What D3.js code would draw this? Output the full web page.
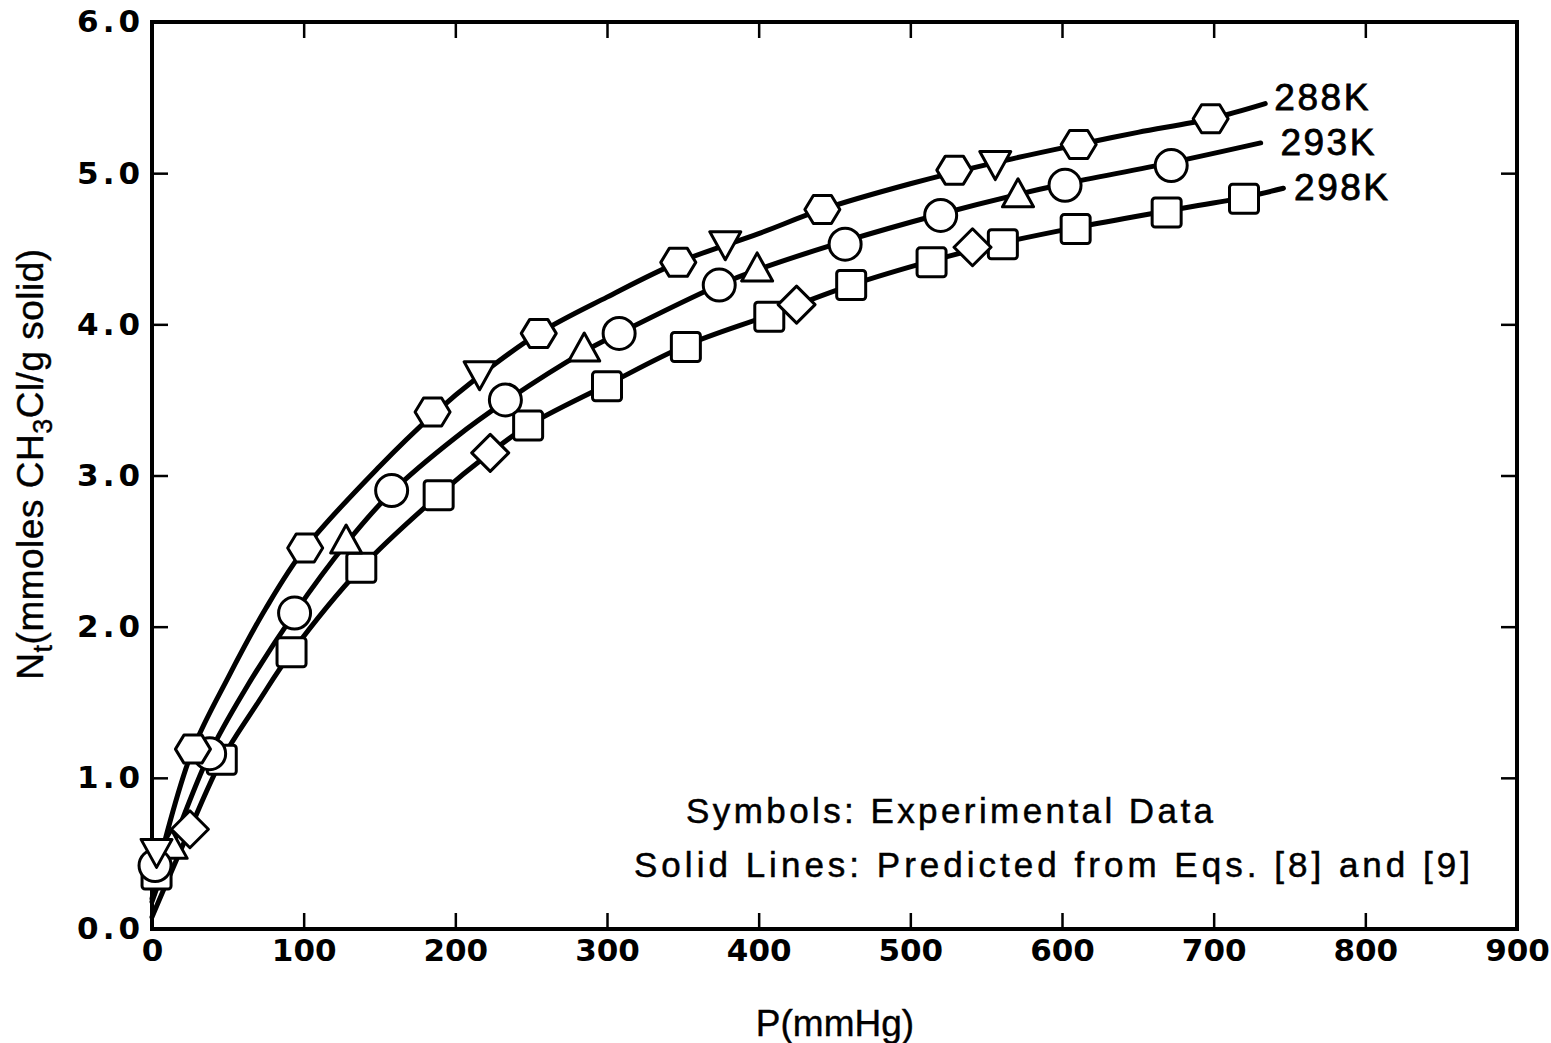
<!DOCTYPE html>
<html lang="en">
<head>
<meta charset="utf-8" />
<title>CH3Cl isotherms</title>
<script src="https://d3js.org/d3.v7.min.js"></script>
<style>
  body { margin: 0; background: #fff; }
  text { fill: #000; }
</style>
</head>
<body>
<script>
/*************************** Data ***************************/

// x axis / y axis ticks
var xTicks = [0, 100, 200, 300, 400, 500, 600, 700, 800, 900];
var yTicks = [0, 1, 2, 3, 4, 5, 6];

// predicted curves [P, Nt]
var line288 = [[0,0.2],[10,0.64],[27,1.19],[50,1.66],[75,2.12],[101,2.52],[150,3.06],[185,3.40],[216,3.66],[255,3.94],[300,4.18],[347,4.41],[400,4.60],[442,4.76],[500,4.93],[556,5.07],[611,5.19],[650,5.27],[698,5.36],[734,5.46]];
var line293 = [[0,0.18],[13,0.54],[38,1.16],[60,1.56],[94,2.09],[128,2.55],[158,2.89],[200,3.25],[233,3.49],[285,3.82],[308,3.94],[374,4.26],[399,4.36],[457,4.55],[520,4.73],[571,4.86],[602,4.93],[672,5.07],[731,5.20]];
var line298 = [[0,0.08],[25,0.66],[46,1.12],[70,1.5],[92,1.83],[138,2.39],[189,2.87],[223,3.15],[248,3.33],[300,3.60],[352,3.86],[407,4.06],[461,4.26],[514,4.42],[561,4.54],[609,4.64],[669,4.75],[720,4.84],[746,4.90]];

// experimental symbols [P, Nt]
var hex288 = [[27,1.19],[101,2.52],[185,3.42],[255,3.94],[347,4.41],[442,4.76],[529,5.02],[611,5.19],[698,5.36]];
var triDown288 = [[3,0.52],[216,3.68],[378,4.54],[556,5.07]];
var circle293 = [[2,0.42],[38,1.16],[94,2.09],[158,2.90],[233,3.50],[308,3.94],[374,4.26],[457,4.53],[520,4.72],[602,4.92],[672,5.05]];
var triUp293 = [[13,0.54],[128,2.56],[285,3.83],[399,4.36],[571,4.85]];
var square298 = [[3,0.36],[46,1.12],[92,1.83],[138,2.39],[189,2.87],[248,3.33],[300,3.59],[352,3.85],[407,4.05],[461,4.26],[514,4.41],[561,4.53],[609,4.63],[669,4.74],[720,4.83]];
var diamond298 = [[25,0.66],[223,3.15],[425,4.13],[541,4.51]];

var curveLabels = ["288K", "293K", "298K"];
var notes = ["Symbols: Experimental Data", "Solid Lines: Predicted from Eqs. [8] and [9]"];

/*************************** Canvas ***************************/

var W = 1551, H = 1043;
var margin = { left: 152, top: 22, right: 34, bottom: 114 };

var svg = d3.select("body").append("svg")
  .attr("width", W).attr("height", H);

var x = d3.scaleLinear().domain([0, 900]).range([margin.left, W - margin.right]);
var y = d3.scaleLinear().domain([0, 6]).range([H - margin.bottom, margin.top]);

var tickFont = "'DejaVu Sans', sans-serif";
var textFont = "'Liberation Sans', Arial, sans-serif";

/*************************** Axes ***************************/

var tickLen = 16;
function styleAxis(g) {
  g.select(".domain").remove();
  g.selectAll(".tick line").attr("stroke", "#000").attr("stroke-width", 2.5);
}

var bottomAxis = svg.append("g")
  .attr("transform", "translate(0," + y(0) + ")")
  .call(d3.axisBottom(x).tickValues(xTicks).tickSizeInner(-tickLen).tickSizeOuter(0).tickPadding(10).tickFormat(d3.format("d")));
styleAxis(bottomAxis);
bottomAxis.selectAll(".tick text")
  .attr("font-family", tickFont).attr("font-weight", "bold").attr("font-size", 31);

var topAxis = svg.append("g")
  .attr("transform", "translate(0," + y(6) + ")")
  .call(d3.axisTop(x).tickValues(xTicks.slice(1, -1)).tickSizeInner(-tickLen).tickSizeOuter(0).tickFormat(""));
styleAxis(topAxis);

var leftAxis = svg.append("g")
  .attr("transform", "translate(" + x(0) + ",0)")
  .call(d3.axisLeft(y).tickValues(yTicks).tickSizeInner(-tickLen).tickSizeOuter(0).tickPadding(12).tickFormat(d3.format(".1f")));
styleAxis(leftAxis);
leftAxis.selectAll(".tick line").filter(function (d) { return d === 0 || d === 6; }).remove();
leftAxis.selectAll(".tick text")
  .attr("font-family", tickFont).attr("font-weight", "bold").attr("font-size", 31)
  .attr("letter-spacing", 4).attr("dx", 4);

var rightAxis = svg.append("g")
  .attr("transform", "translate(" + x(900) + ",0)")
  .call(d3.axisRight(y).tickValues(yTicks.slice(1, -1)).tickSizeInner(-tickLen).tickSizeOuter(0).tickFormat(""));
styleAxis(rightAxis);

// frame
svg.append("rect")
  .attr("x", x(0)).attr("y", y(6))
  .attr("width", x(900) - x(0)).attr("height", y(0) - y(6))
  .attr("fill", "none").attr("stroke", "#000").attr("stroke-width", 4);

/*************************** Curves ***************************/

var lineGen = d3.line()
  .x(function (d) { return x(d[0]); })
  .y(function (d) { return y(d[1]); })
  .curve(d3.curveCatmullRom.alpha(0.5));

[line288, line293, line298].forEach(function (ln) {
  svg.append("path").datum(ln)
    .attr("d", lineGen)
    .attr("fill", "none").attr("stroke", "#000").attr("stroke-width", 5)
    .attr("stroke-linecap", "round");
});

/*************************** Symbols ***************************/

function shapePath(kind) {
  var p = d3.path();
  if (kind === "hex") {
    var a = 17.5, b = 9, h = 14;
    p.moveTo(-a, 0); p.lineTo(-b, -h); p.lineTo(b, -h); p.lineTo(a, 0);
    p.lineTo(b, h); p.lineTo(-b, h); p.closePath();
  } else if (kind === "triDown") {
    p.moveTo(-15.5, -11); p.lineTo(15.5, -11); p.lineTo(0, 17); p.closePath();
  } else if (kind === "triUp") {
    p.moveTo(-15.5, 11); p.lineTo(15.5, 11); p.lineTo(0, -17); p.closePath();
  } else if (kind === "circle") {
    p.arc(0, 0, 16, 0, 2 * Math.PI); p.closePath();
  } else if (kind === "square") {
    var s = 14.5, r = 3;
    p.moveTo(-s + r, -s); p.lineTo(s - r, -s); p.arcTo(s, -s, s, -s + r, r);
    p.lineTo(s, s - r); p.arcTo(s, s, s - r, s, r);
    p.lineTo(-s + r, s); p.arcTo(-s, s, -s, s - r, r);
    p.lineTo(-s, -s + r); p.arcTo(-s, -s, -s + r, -s, r); p.closePath();
  } else if (kind === "diamond") {
    var d = 18.5;
    p.moveTo(0, -d); p.lineTo(d, 0); p.lineTo(0, d); p.lineTo(-d, 0); p.closePath();
  }
  return p.toString();
}

var symbolSets = [
  { pts: square298, kind: "square" },
  { pts: diamond298, kind: "diamond" },
  { pts: triUp293, kind: "triUp" },
  { pts: circle293, kind: "circle" },
  { pts: hex288, kind: "hex" },
  { pts: triDown288, kind: "triDown" }
];

symbolSets.forEach(function (set) {
  svg.append("g").selectAll("path")
    .data(set.pts).enter().append("path")
    .attr("transform", function (d) { return "translate(" + x(d[0]) + "," + y(d[1]) + ")"; })
    .attr("d", shapePath(set.kind))
    .attr("fill", "#fff").attr("stroke", "#000").attr("stroke-width", 3)
    .attr("stroke-linejoin", "round");
});

/*************************** Text ***************************/

// curve labels, next to line ends
var labelPos = [[740, 5.42], [744, 5.12], [753, 4.82]];
curveLabels.forEach(function (t, i) {
  svg.append("text")
    .attr("x", x(labelPos[i][0])).attr("y", y(labelPos[i][1]))
    .attr("font-family", textFont).attr("font-size", 37)
    .attr("stroke", "#000").attr("stroke-width", 0.8)
    .attr("textLength", 94).attr("lengthAdjust", "spacing")
    .text(t);
});

svg.append("text")
  .attr("x", 686).attr("y", 823)
  .attr("font-family", textFont).attr("font-size", 35)
  .attr("stroke", "#000").attr("stroke-width", 0.5)
  .attr("textLength", 527).attr("lengthAdjust", "spacing")
  .text(notes[0]);

svg.append("text")
  .attr("x", 634).attr("y", 877)
  .attr("font-family", textFont).attr("font-size", 35)
  .attr("stroke", "#000").attr("stroke-width", 0.5)
  .attr("textLength", 836).attr("lengthAdjust", "spacing")
  .text(notes[1]);

// axis titles
svg.append("text")
  .attr("x", 835).attr("y", 1036)
  .attr("text-anchor", "middle")
  .attr("font-family", textFont).attr("font-size", 37)
  .attr("stroke", "#000").attr("stroke-width", 0.4)
  .text("P(mmHg)");

var yTitle = svg.append("text")
  .attr("transform", "translate(43,464) rotate(-90)")
  .attr("text-anchor", "middle")
  .attr("font-family", textFont).attr("font-size", 37)
  .attr("stroke", "#000").attr("stroke-width", 0.4)
  .attr("letter-spacing", 0.5);
yTitle.append("tspan").text("N");
yTitle.append("tspan").attr("font-size", 27).attr("dy", 9).text("t");
yTitle.append("tspan").attr("dy", -9).text("(mmoles CH");
yTitle.append("tspan").attr("font-size", 27).attr("dy", 9).text("3");
yTitle.append("tspan").attr("dy", -9).text("Cl/g solid)");
</script>
</body>
</html>
